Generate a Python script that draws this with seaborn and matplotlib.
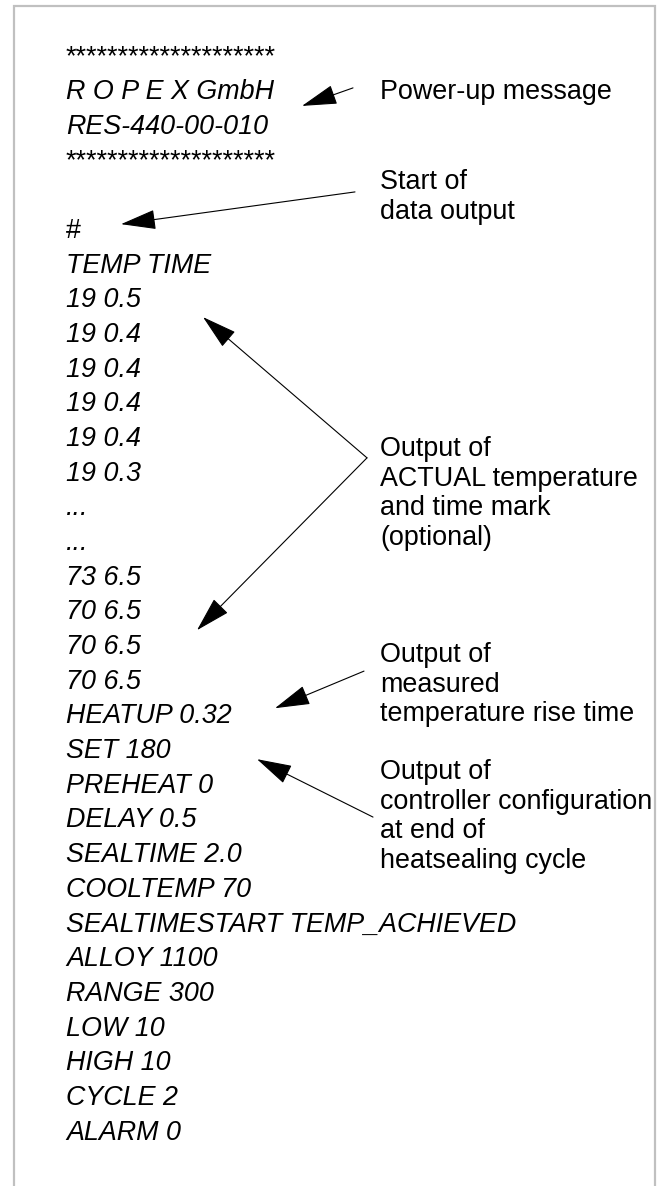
import matplotlib
matplotlib.use("Agg")
import matplotlib.pyplot as plt
import seaborn as sns

sns.set_theme(style="white")
plt.rcParams['font.family'] = ['Liberation Sans', 'DejaVu Sans']

# serial printout of the controller (row 0 = first measured value)
header_lines = ["*" * 20, "R O P E X GmbH", "RES-440-00-010", "*" * 20, "", "#", "TEMP TIME"]
start_temps = [19, 19, 19, 19, 19, 19]
start_times = [0.5, 0.4, 0.4, 0.4, 0.4, 0.3]
gap_lines = ["...", "..."]
end_temps = [73, 70, 70, 70]
end_times = [6.5, 6.5, 6.5, 6.5]
config_keys = ["HEATUP", "SET", "PREHEAT", "DELAY", "SEALTIME", "COOLTEMP",
               "SEALTIMESTART", "ALLOY", "RANGE", "LOW", "HIGH", "CYCLE", "ALARM"]
config_values = ["0.32", "180", "0", "0.5", "2.0", "70",
                 "TEMP_ACHIEVED", "1100", "300", "10", "10", "2", "0"]

# comments on the right side
notes = ["Power-up message",
         "Start of\ndata output",
         "Output of\nACTUAL temperature\nand time mark\n(optional)",
         "Output of\nmeasured\ntemperature rise time",
         "Output of\ncontroller configuration\nat end of\nheatsealing cycle"]

# build the list of printed lines
body = [f"{t} {s}" for t, s in zip(start_temps, start_times)] + gap_lines
body += [f"{t} {s}" for t, s in zip(end_temps, end_times)]
body += [f"{k} {v}" for k, v in zip(config_keys, config_values)]
rows = list(range(-len(header_lines), 0)) + list(range(len(body)))
lines = header_lines + body

# layout (x in pixels, y in printout rows)
FS = 19.4
TEXT_X = 66
NOTE_X = 380
BASE = 0.27          # baseline below the cap centre, in rows
NOTE_STEP = 0.85     # line step of the comments, in rows
note_rows = [-6.0, -3.4, 4.3, 10.24, 13.61]
arrows = [((353, -6.06), (302, -5.54)),
          ((355, -3.06), (121, -2.13)),
          ((367, 4.61), (203, 0.55)),
          ((367, 4.61), (197, 9.58)),
          ((364, 10.76), (275, 11.83)),
          ((373, 14.97), (257, 13.30))]

fig = plt.figure(figsize=(6.61, 11.86), dpi=100)
ax = fig.add_axes([0, 0, 1, 1])
ax.set_xlim(0, 661)
ax.set_ylim(25.61, -8.595)
ax.axis('off')

# frame, open at the bottom
ax.plot([14, 14, 655, 655], [26, -8.42, -8.42, 26], color='#c0c0c0', lw=1.6,
        solid_joinstyle='miter')

for r, s in zip(rows, lines):
    if not s:
        continue
    style = 'normal' if s.startswith('#') or s.startswith('*') else 'italic'
    ax.text(TEXT_X, r + BASE, s, fontsize=FS, style=style, va='baseline',
            ha='left', color='black')

for r0, note in zip(note_rows, notes):
    for j, part in enumerate(note.split("\n")):
        ax.text(NOTE_X, r0 + j * NOTE_STEP + BASE, part, fontsize=FS,
                va='baseline', ha='left', color='black')

for tail, tip in arrows:
    ax.annotate("", xy=tip, xytext=tail,
                arrowprops=dict(arrowstyle='-|>,head_length=1.6,head_width=0.45',
                                mutation_scale=14, lw=0.8, color='black',
                                shrinkA=0, shrinkB=0))

fig.savefig("out.png", dpi=100, facecolor='white')
